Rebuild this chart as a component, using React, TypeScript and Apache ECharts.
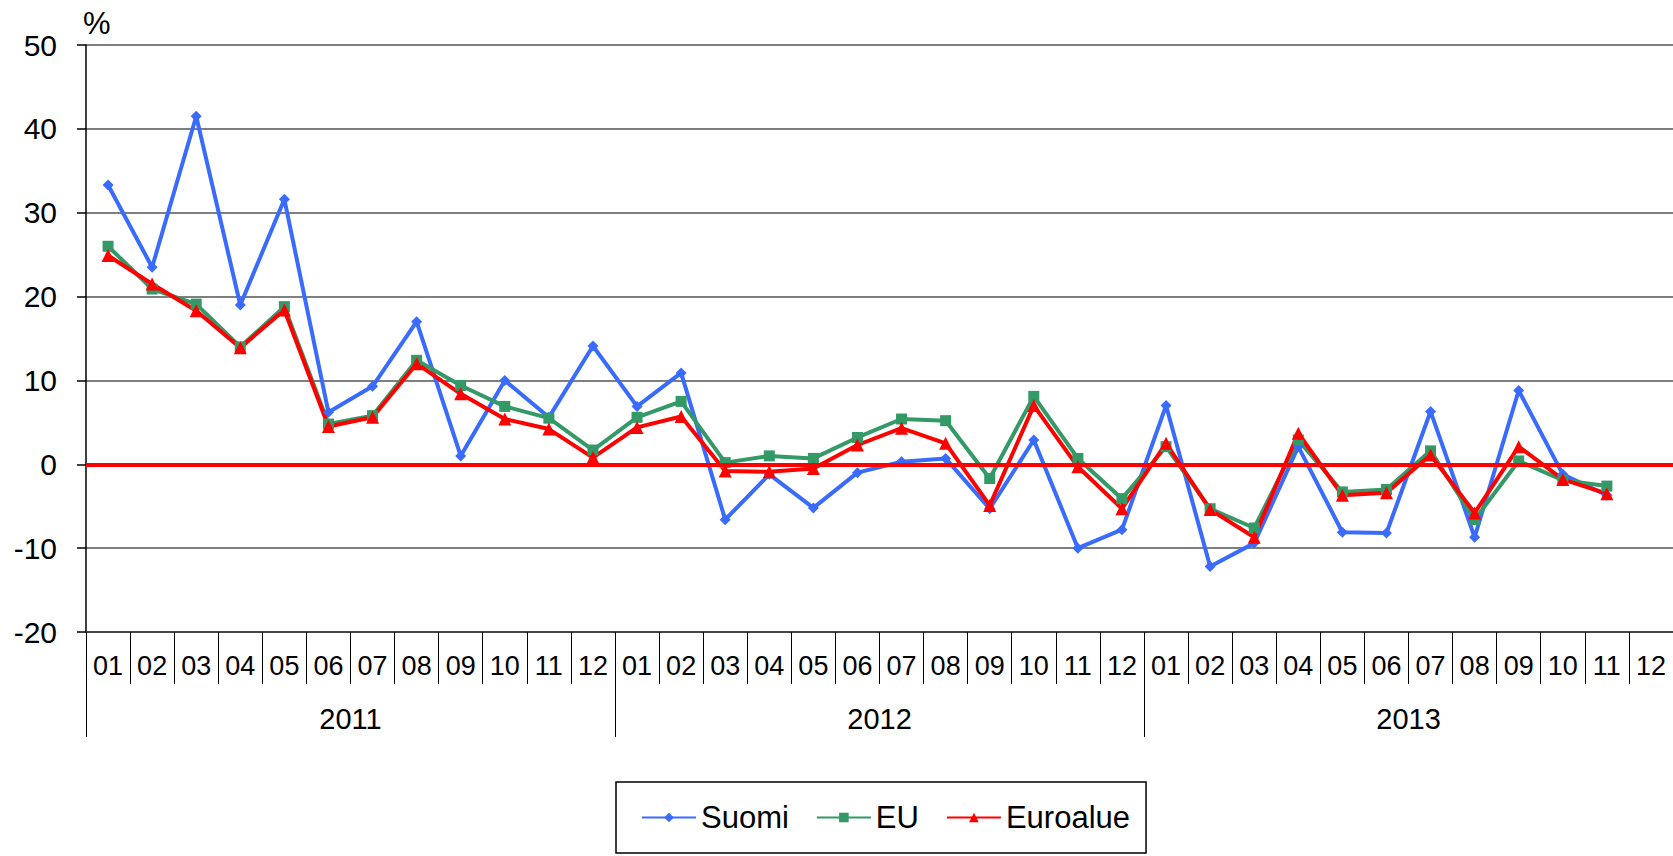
import React, { useEffect, useRef } from "react";
import * as echarts from "echarts";

const months = ["01", "02", "03", "04", "05", "06", "07", "08", "09", "10", "11", "12"];
const years = ["2011", "2012", "2013"];
const categories = years.flatMap((y) => months.map((m) => `${y}-${m}`));

const suomi = [
  33.3, 23.5, 41.5, 19.0, 31.6, 6.2, 9.3, 17.0, 1.0, 10.0, 5.6, 14.1,
  6.9, 10.9, -6.6, -1.2, -5.2, -1.0, 0.3, 0.7, -5.3, 2.9, -10.0, -7.8,
  7.0, -12.2, -9.4, 2.1, -8.1, -8.2, 6.3, -8.7, 8.8, -1.2, -3.7, null,
];
const eu = [
  26.0, 20.9, 19.1, 14.0, 18.8, 4.8, 5.8, 12.4, 9.4, 6.9, 5.5, 1.7,
  5.6, 7.5, 0.2, 1.0, 0.7, 3.2, 5.4, 5.2, -1.7, 8.1, 0.7, -4.1,
  2.1, -5.3, -7.6, 2.9, -3.3, -3.0, 1.6, -6.6, 0.4, -1.9, -2.6, null,
];
const euroalue = [
  24.9, 21.5, 18.3, 13.9, 18.4, 4.5, 5.6, 12.0, 8.4, 5.4, 4.2, 0.8,
  4.4, 5.7, -0.8, -0.9, -0.5, 2.3, 4.3, 2.5, -4.9, 7.0, -0.3, -5.3,
  2.5, -5.4, -8.7, 3.7, -3.7, -3.4, 1.1, -5.8, 2.1, -1.8, -3.5, null,
];

const FONT = "'Liberation Sans', Arial, sans-serif";

export default function App() {
  const ref = useRef<HTMLDivElement>(null);
  useEffect(() => {
    if (!ref.current) return;
    const chart = echarts.init(ref.current, undefined, { renderer: "svg" });
    chart.setOption({
      animation: false,
      backgroundColor: "#fff",
      textStyle: { fontFamily: FONT },
      grid: { left: 86, right: 0, top: 45, bottom: 224, containLabel: false },
      graphic: [
        {
          type: "text",
          left: 83,
          top: 8,
          style: { text: "%", fontSize: 31, fontFamily: FONT, fill: "#000" },
        },
      ],
      legend: {
        left: 616,
        top: 782,
        padding: [20, 16, 20, 25],
        borderColor: "#000",
        borderWidth: 1.5,
        itemWidth: 54,
        itemHeight: 12,
        itemGap: 27,
        textStyle: { fontSize: 31, color: "#000", fontFamily: FONT },
        data: ["Suomi", "EU", "Euroalue"],
      },
      xAxis: [
        {
          type: "category",
          data: categories,
          boundaryGap: true,
          position: "bottom",
          axisLine: { show: true, onZero: false, lineStyle: { color: "#444", width: 2 } },
          axisTick: { show: true, interval: 0, length: 52, lineStyle: { color: "#000", width: 1 } },
          axisLabel: {
            interval: 0,
            fontSize: 27,
            color: "#000",
            margin: 20,
            fontFamily: FONT,
            formatter: (v: string) => v.split("-")[1],
          },
          splitLine: { show: false },
        },
        {
          type: "category",
          data: years,
          boundaryGap: true,
          position: "bottom",
          axisLine: { show: false, onZero: false },
          axisTick: { show: true, interval: 0, length: 105, lineStyle: { color: "#000", width: 1 } },
          axisLabel: { interval: 0, fontSize: 29, color: "#000", margin: 72, fontFamily: FONT },
          splitLine: { show: false },
        },
      ],
      yAxis: {
        type: "value",
        min: -20,
        max: 50,
        interval: 10,
        axisLine: { show: true, lineStyle: { color: "#000", width: 1.5 } },
        axisTick: { show: true, length: 9, lineStyle: { color: "#000", width: 1.5 } },
        axisLabel: { fontSize: 30, color: "#000", margin: 29, fontFamily: FONT },
        splitLine: { show: true, lineStyle: { color: "#555", width: 1.5 } },
      },
      series: [
        {
          name: "Suomi",
          type: "line",
          data: suomi,
          xAxisIndex: 0,
          symbol: "diamond",
          symbolSize: 11,
          color: "#3A6BFF",
          lineStyle: { width: 4, color: "#3A6BFF" },
          itemStyle: { color: "#3A6BFF" },
        },
        {
          name: "EU",
          type: "line",
          data: eu,
          xAxisIndex: 0,
          symbol: "rect",
          symbolSize: 11,
          color: "#339966",
          lineStyle: { width: 4, color: "#339966" },
          itemStyle: { color: "#339966" },
        },
        {
          name: "Euroalue",
          type: "line",
          data: euroalue,
          xAxisIndex: 0,
          symbol: "triangle",
          symbolSize: 13,
          color: "#FF0000",
          lineStyle: { width: 4, color: "#FF0000" },
          itemStyle: { color: "#FF0000" },
          markLine: {
            silent: true,
            symbol: ["none", "none"],
            label: { show: false },
            lineStyle: { color: "#FF0000", width: 4, type: "solid" },
            data: [{ yAxis: 0 }],
          },
        },
      ],
    });
    return () => chart.dispose();
  }, []);
  return (
    <div
      ref={ref}
      style={{ position: "fixed", left: 0, top: 0, width: 1673, height: 856, background: "#fff" }}
    />
  );
}
